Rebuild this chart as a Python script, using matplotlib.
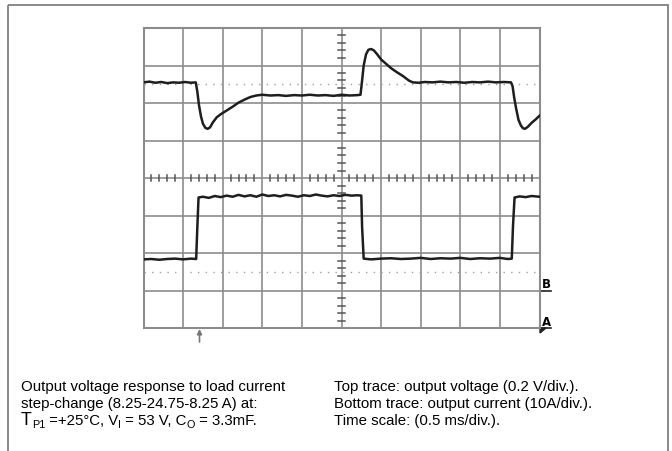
import matplotlib
matplotlib.use("Agg")
import matplotlib.pyplot as plt
from matplotlib.patches import Rectangle, Polygon

plt.rcParams["font.family"] = ["Liberation Sans", "DejaVu Sans"]

# scope traces, in divisions (x: 0..10, y: -4..4)
top_t = [0.00, 0.15, 0.30, 0.45, 0.60, 0.75, 0.90, 1.05, 1.20, 1.32, 1.36, 1.40, 1.45,
         1.50, 1.56, 1.62, 1.68, 1.75, 1.85, 1.95, 2.10, 2.25, 2.40, 2.55, 2.70, 2.85,
         3.00, 3.20, 3.40, 3.60, 3.80, 4.00, 4.20, 4.40, 4.60, 4.80, 5.00, 5.20, 5.40,
         5.48, 5.52, 5.56, 5.62, 5.68, 5.75, 5.82, 5.90, 6.00, 6.12, 6.25, 6.40, 6.55,
         6.70, 6.80, 6.95, 7.10, 7.30, 7.50, 7.70, 7.90, 8.10, 8.30, 8.50, 8.70, 8.90,
         9.10, 9.28, 9.32, 9.36, 9.41, 9.47, 9.53, 9.58, 9.63, 9.70, 9.80, 9.90, 10.00]
top_v = [2.55, 2.57, 2.54, 2.56, 2.53, 2.55, 2.54, 2.56, 2.54, 2.55, 2.30, 1.95, 1.65,
         1.45, 1.34, 1.31, 1.35, 1.48, 1.62, 1.70, 1.80, 1.90, 2.01, 2.09, 2.16, 2.20,
         2.22, 2.20, 2.21, 2.19, 2.21, 2.20, 2.22, 2.20, 2.21, 2.19, 2.22, 2.20, 2.21,
         2.22, 2.60, 3.00, 3.30, 3.42, 3.44, 3.40, 3.30, 3.16, 3.05, 2.93, 2.82, 2.72,
         2.60, 2.55, 2.54, 2.56, 2.55, 2.57, 2.55, 2.56, 2.54, 2.56, 2.55, 2.57, 2.55,
         2.56, 2.55, 2.45, 2.15, 1.85, 1.55, 1.40, 1.33, 1.31, 1.36, 1.47, 1.56, 1.66]

cur_t = [0.00, 0.20, 0.40, 0.60, 0.80, 1.00, 1.20, 1.33, 1.36, 1.39, 1.50, 1.65, 1.80,
         1.95, 2.10, 2.25, 2.40, 2.55, 2.70, 2.85, 3.00, 3.15, 3.30, 3.45, 3.60, 3.75,
         3.90, 4.05, 4.20, 4.35, 4.50, 4.65, 4.80, 4.95, 5.10, 5.25, 5.40, 5.50, 5.52,
         5.56, 5.75, 6.00, 6.25, 6.50, 6.75, 7.00, 7.25, 7.50, 7.75, 8.00, 8.25, 8.50,
         8.75, 9.00, 9.20, 9.30, 9.33, 9.37, 9.50, 9.65, 9.80, 10.00]
cur_i = [-2.17, -2.16, -2.18, -2.16, -2.15, -2.17, -2.15, -2.16, -1.30, -0.52, -0.50, -0.53,
         -0.48, -0.51, -0.47, -0.50, -0.45, -0.49, -0.46, -0.50, -0.44, -0.48, -0.46, -0.49,
         -0.45, -0.47, -0.50, -0.46, -0.48, -0.44, -0.47, -0.49, -0.46, -0.48, -0.45, -0.47,
         -0.46, -0.47, -1.30, -2.15, -2.17, -2.15, -2.14, -2.16, -2.15, -2.13, -2.16, -2.14,
         -2.15, -2.13, -2.16, -2.14, -2.15, -2.13, -2.16, -2.15, -1.30, -0.52, -0.49, -0.51,
         -0.48, -0.50]

left_lines = ["Output voltage response to load current",
              "step-change (8.25-24.75-8.25 A) at:"]
line3_parts = [("T", 12.8, 0), ("P1", 7.8, 3), (" =+25°C, V", 10.8, 0), ("I", 7.8, 3),
               (" = 53 V, C", 10.8, 0), ("O", 7.8, 3), (" = 3.3mF.", 10.8, 0)]
right_lines = ["Top trace: output voltage (0.2 V/div.).",
               "Bottom trace: output current (10A/div.).",
               "Time scale: (0.5 ms/div.)."]

W, H = 672, 452
fig = plt.figure(figsize=(W / 100, H / 100), dpi=100)
fig.patch.set_facecolor("white")

# overlay in pixel coords
ov = fig.add_axes([0, 0, 1, 1])
ov.set_xlim(0, W)
ov.set_ylim(H, 0)
ov.axis("off")
ov.add_patch(Rectangle((7.5, 5.5), 660, 460, fill=False, ec="#808080", lw=1.3))

# scope screen
gl, gt, gr, gb = 143.5, 29, 539.5, 329
sc = fig.add_axes([gl / W, (H - gb) / H, (gr - gl) / W, (gb - gt) / H])
sc.set_xlim(0, 10)
sc.set_ylim(-4, 4)
sc.set_xticks([])
sc.set_yticks([])
grid_c = "#8c8c8c"
for s in sc.spines.values():
    s.set_color(grid_c)
    s.set_linewidth(1.5)
for x in range(1, 10):
    sc.axvline(x, color=grid_c, lw=1.2, zorder=1)
for y in range(-3, 4):
    sc.axhline(y, color=grid_c, lw=1.2, zorder=1)
for y in (2.5, -2.5):
    sc.axhline(y, color="#a0a0a0", lw=1.0, dashes=(1.0, 4.5), zorder=1)
# center minor ticks
tick_c = "#555555"
for k in range(1, 50):
    if k % 5:
        sc.plot([k * 0.2, k * 0.2], [-0.09, 0.09], color=tick_c, lw=1.1, zorder=1)
for k in range(1, 40):
    if k % 5:
        y = -4 + k * 0.2
        sc.plot([4.91, 5.09], [y, y], color=tick_c, lw=1.1, zorder=1)

sc.plot(top_t, top_v, color="#1e1e1e", lw=1.8, zorder=3)
sc.plot(cur_t, cur_i, color="#1e1e1e", lw=1.8, zorder=3)

# channel markers
ov.plot([gr, gr + 11], [291.5, 291.5], color="#222222", lw=1.2)
ov.plot([gr, gr + 11], [gb, gb], color="#222222", lw=1.2)
ov.text(546, 288.5, "B", fontsize=8.5, fontweight="bold", ha="center", va="baseline",
        family="DejaVu Sans Condensed")
ov.text(546, 326, "A", fontsize=8.5, fontweight="bold", ha="center", va="baseline",
        family="DejaVu Sans Condensed")
ov.add_patch(Polygon([[540, 329], [546, 329], [540, 334]], closed=True, color="#222222"))

# trigger arrow
ov.annotate("", xy=(199.5, 330), xytext=(199.5, 343),
            arrowprops=dict(arrowstyle="-|>", color="#777777", lw=1.2,
                            mutation_scale=7, shrinkA=0, shrinkB=0))

# caption text
base = [391.5, 408.3, 425.0]
for i, s in enumerate(left_lines):
    ov.text(21, base[i], s, fontsize=10.8, va="baseline", ha="left")
for i, s in enumerate(right_lines):
    ov.text(334, base[i], s, fontsize=10.8, va="baseline", ha="left")

fig.canvas.draw()
renderer = fig.canvas.get_renderer()
x = 21
for s, size, drop in line3_parts:
    t = ov.text(x, base[2] + drop, s, fontsize=size, va="baseline", ha="left")
    bb = t.get_window_extent(renderer=renderer)
    x += bb.width

fig.savefig("out.png", dpi=100)
